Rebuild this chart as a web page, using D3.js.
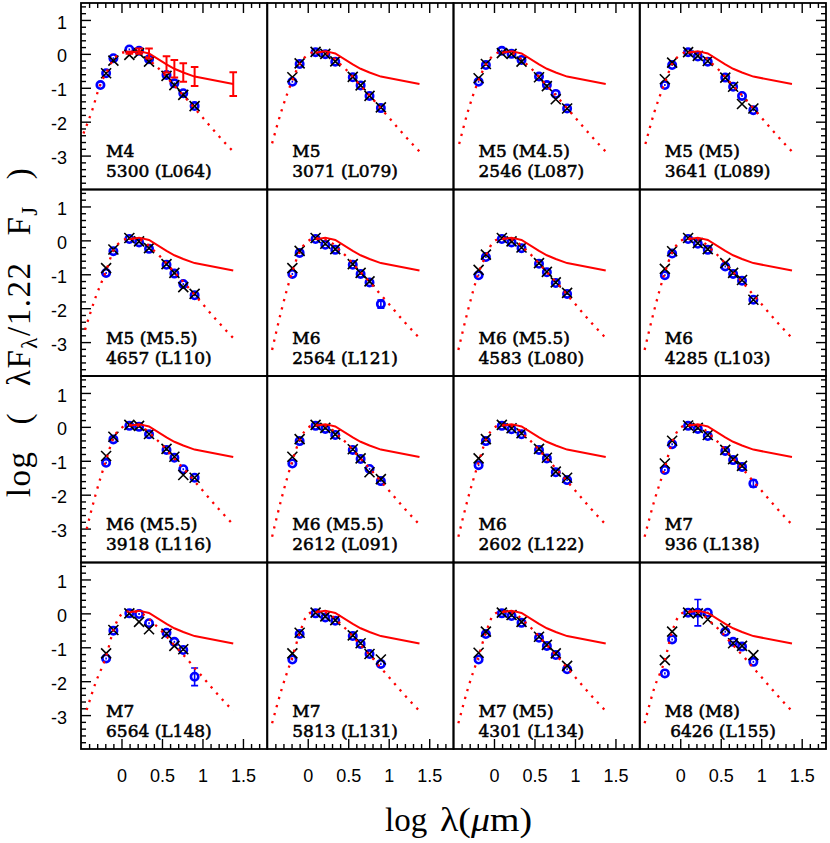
<!DOCTYPE html>
<html><head><meta charset="utf-8">
<script src="https://cdn.jsdelivr.net/npm/d3@7"></script>
<style>
body{margin:0;background:#fff;}
svg{display:block;}
</style></head><body>
<script>
// ---------------- data ----------------
const bandNames = ["V","R","I","J","H","K","3.6","4.5","5.8","8.0"];
const bandLogLambda = [-0.26,-0.19,-0.10,0.097,0.217,0.34,0.556,0.653,0.763,0.903];

const spectralTypes = ["M4","M5","M5 (M4.5)","M5 (M5)",
  "M5 (M5.5)","M6","M6 (M5.5)","M6",
  "M6 (M5.5)","M6 (M5.5)","M6","M7",
  "M7","M7","M7 (M5)","M8 (M8)"];
const sourceLabels = ["5300 (L064)","3071 (L079)","2546 (L087)","3641 (L089)",
  "4657 (L110)","2564 (L121)","4583 (L080)","4285 (L103)",
  "3918 (L116)","2612 (L091)","2602 (L122)","936 (L138)",
  "6564 (L148)","5813 (L131)","4301 (L134)"," 6426 (L155)"];

// observed (blue circles), per panel, per band
const observed = [
 [-0.92,-0.57,-0.13,0.13,0.09,-0.16,-0.62,-0.87,-1.16,-1.54],
 [null,-0.82,-0.30,0.05,-0.01,-0.23,-0.69,-0.93,-1.24,-1.60],
 [null,-0.82,-0.33,0.09,0.00,-0.18,-0.67,-0.92,-1.18,-1.61],
 [null,-0.92,-0.33,0.05,-0.08,-0.23,-0.70,-0.97,-1.24,-1.66],
 [null,-0.96,-0.32,0.04,-0.06,-0.25,-0.72,-0.98,-1.29,-1.62],
 [null,-0.99,-0.37,0.04,-0.13,-0.28,-0.72,-0.99,-1.24,-1.88],
 [null,-1.03,-0.49,0.04,-0.06,-0.23,-0.69,-0.94,-1.26,-1.58],
 [null,-1.03,-0.39,0.04,-0.10,-0.28,-0.77,-0.99,-1.19,-1.75],
 [null,-1.06,-0.37,0.03,0.00,-0.22,-0.68,-0.91,-1.25,-1.50],
 [null,-1.08,-0.42,0.03,-0.06,-0.24,-0.68,-0.95,-1.24,-1.60],
 [null,-1.13,-0.42,0.03,-0.07,-0.22,-0.68,-0.93,-1.34,-1.57],
 [null,-1.27,-0.51,0.03,-0.06,-0.27,-0.71,-0.98,-1.18,-1.67],
 [null,-1.33,-0.51,0.00,-0.02,-0.29,-0.57,-0.84,-1.08,-1.87],
 [null,-1.36,-0.61,0.00,-0.12,-0.22,-0.67,-0.90,-1.20,-1.49],
 [null,-1.36,-0.61,0.00,-0.08,-0.28,-0.72,-0.96,-1.23,-1.65],
 [null,-1.77,-0.77,0.02,0.02,0.02,-0.54,-0.84,-0.98,-1.43]
];
// photospheric model points (black crosses)
const photosphere = [
 [null,-0.57,-0.20,-0.03,0.02,-0.23,-0.65,-0.92,-1.21,-1.54],
 [null,-0.69,-0.28,0.06,0.00,-0.22,-0.68,-0.93,-1.24,-1.58],
 [null,-0.72,-0.30,0.02,0.00,-0.23,-0.69,-0.95,-1.34,-1.61],
 [null,-0.75,-0.26,0.05,-0.06,-0.21,-0.70,-0.97,-1.48,-1.61],
 [null,-0.82,-0.27,0.07,-0.03,-0.23,-0.70,-0.96,-1.38,-1.58],
 [null,-0.82,-0.31,0.07,-0.10,-0.26,-0.70,-0.96,-1.21,null],
 [null,-0.87,-0.42,0.07,-0.03,-0.21,-0.67,-0.93,-1.24,-1.55],
 [null,-0.84,-0.32,0.07,-0.08,-0.26,-0.67,-0.96,-1.17,-1.75],
 [null,-0.86,-0.29,0.06,0.03,-0.21,-0.65,-0.88,-1.42,-1.50],
 [null,-0.88,-0.36,0.06,-0.03,-0.22,-0.66,-0.93,-1.34,-1.54],
 [null,-0.93,-0.36,0.06,-0.04,-0.19,-0.65,-0.91,-1.32,-1.50],
 [null,-1.08,-0.41,0.04,-0.03,-0.24,-0.68,-0.95,-1.15,null],
 [null,-1.18,-0.49,0.00,-0.25,-0.47,-0.60,-0.96,-1.06,null],
 [null,-1.18,-0.57,0.02,-0.09,-0.20,-0.65,-0.88,-1.20,-1.36],
 [null,-1.16,-0.54,0.02,-0.05,-0.25,-0.69,-0.93,-1.18,-1.55],
 [null,-1.38,-0.54,0.02,0.00,-0.18,-0.44,-0.88,-0.96,-1.23]
];
const defaultError = 0.03;
// [panel, band, error] for the visible large error bars
const largeErrors = [[5,9,0.12],[11,9,0.10],[12,9,0.26],[15,4,0.39]];

// median disk SED (red solid line) and its spread (panel 1)
const medianLogLambda = [0.097,0.217,0.34,0.556,0.653,0.763,0.903,1.38];
const medianValues    = [0.03,0.08,0.01,-0.31,-0.44,-0.55,-0.67,-0.89];
const medianErrors    = [0.03,0.08,0.15,0.24,0.26,0.27,0.28,0.35];

// photosphere model curve (red dotted): short-wavelength side per panel
const modelBlueSide = [
 [[-0.47,-2.35],[-0.36,-1.65],[-0.265,-0.92],[-0.19,-0.57],[-0.10,-0.17],[0.0,0.03]],
 [[-0.44,-2.64],[-0.32,-1.65],[-0.19,-0.78],[-0.10,-0.30],[0.0,-0.03]],
 [[-0.43,-2.66],[-0.32,-1.68],[-0.19,-0.78],[-0.10,-0.32],[0.0,-0.03]],
 [[-0.43,-2.66],[-0.32,-1.72],[-0.19,-0.85],[-0.10,-0.30],[0.0,-0.03]],
 [[-0.45,-2.64],[-0.32,-1.68],[-0.19,-0.90],[-0.10,-0.30],[0.0,-0.03]],
 [[-0.44,-3.23],[-0.32,-2.02],[-0.19,-0.92],[-0.10,-0.34],[0.0,-0.03]],
 [[-0.44,-3.23],[-0.32,-2.05],[-0.19,-0.96],[-0.10,-0.45],[0.0,-0.03]],
 [[-0.44,-3.23],[-0.32,-2.05],[-0.19,-0.95],[-0.10,-0.36],[0.0,-0.03]],
 [[-0.43,-3.01],[-0.32,-2.00],[-0.19,-0.98],[-0.10,-0.33],[0.0,-0.03]],
 [[-0.44,-3.24],[-0.32,-2.08],[-0.19,-1.00],[-0.10,-0.39],[0.0,-0.03]],
 [[-0.44,-3.24],[-0.32,-2.10],[-0.19,-1.05],[-0.10,-0.39],[0.0,-0.03]],
 [[-0.44,-3.24],[-0.32,-2.18],[-0.19,-1.20],[-0.10,-0.46],[0.0,-0.03]],
 [[-0.43,-2.85],[-0.32,-2.05],[-0.19,-1.27],[-0.10,-0.50],[0.0,-0.03]],
 [[-0.44,-3.24],[-0.32,-2.22],[-0.19,-1.28],[-0.10,-0.59],[0.0,-0.03]],
 [[-0.44,-3.24],[-0.32,-2.20],[-0.19,-1.26],[-0.10,-0.57],[0.0,-0.03]],
 [[-0.44,-3.24],[-0.32,-2.20],[-0.19,-1.38],[-0.10,-0.54],[0.0,-0.03]]
];
// long-wavelength side (shared)
const modelRedSide = [[0.1,0.06],[0.2,0.04],[0.3,-0.08],[0.4,-0.30],[0.5,-0.53],[0.6,-0.80],
  [0.7,-1.06],[0.8,-1.32],[0.9,-1.60],[1.0,-1.87],[1.1,-2.15],[1.2,-2.42],[1.3,-2.68],[1.38,-2.88]];

const yMajorTicks = [1,0,-1,-2,-3];
const xMajorTicks = [0,0.5,1,1.5];

// ---------------- layout ----------------
const W=830, H=843;
const left0=81, top0=3, pw=186.25, ph=186.5;
const RED="#ff0000", BLUE="#0000ff";
const SERIF="Liberation Serif, Times New Roman, serif";

const svg=d3.select("body").append("svg").attr("width",W).attr("height",H);
svg.append("rect").attr("width",W).attr("height",H).attr("fill","#fff");

const yMinor = d3.range(-3.8,1.45,0.2).map(v=>+v.toFixed(2)).filter(v=>Math.abs(v-Math.round(v))>1e-6);
const xMinor = d3.range(-0.4,1.75,0.1).map(v=>+v.toFixed(2)).filter(v=>Math.abs(v*2-Math.round(v*2))>1e-6);

for(let p=0;p<16;p++){
  const r=Math.floor(p/4), c=p%4;
  const x0=left0+c*pw, y0=top0+r*ph;
  const x=d3.scaleLinear().domain([-0.5,1.8]).range([x0,x0+pw]);
  const y=d3.scaleLinear().domain([-4,1.5]).range([y0+ph,y0]);
  const g=svg.append("g");

  // ticks on outer frame only
  const styleAxis = sel=>{ sel.select(".domain").remove(); sel.selectAll(".tick line").attr("stroke","#000").attr("stroke-width",1.4); };
  if(c===0){
    g.append("g").attr("transform",`translate(${x0},0)`)
      .call(d3.axisLeft(y).tickValues(yMajorTicks).tickSize(-10).tickPadding(14).tickFormat(d=>String(d)))
      .call(styleAxis)
      .call(s=>s.selectAll("text").attr("font-family","Liberation Sans, Arial, sans-serif").attr("font-size",18).attr("fill","#000").attr("dy","0.45em"));
    g.append("g").attr("transform",`translate(${x0},0)`)
      .call(d3.axisLeft(y).tickValues(yMinor).tickSize(-5).tickFormat(""))
      .call(styleAxis);
  }
  if(c===3){
    g.append("g").attr("transform",`translate(${x0+pw},0)`)
      .call(d3.axisRight(y).tickValues(yMajorTicks).tickSize(-10).tickFormat(""))
      .call(styleAxis);
    g.append("g").attr("transform",`translate(${x0+pw},0)`)
      .call(d3.axisRight(y).tickValues(yMinor).tickSize(-5).tickFormat(""))
      .call(styleAxis);
  }
  if(r===0){
    g.append("g").attr("transform",`translate(0,${y0})`)
      .call(d3.axisTop(x).tickValues(xMajorTicks).tickSize(-10).tickFormat(""))
      .call(styleAxis);
    g.append("g").attr("transform",`translate(0,${y0})`)
      .call(d3.axisTop(x).tickValues(xMinor).tickSize(-5).tickFormat(""))
      .call(styleAxis);
  }
  if(r===3){
    g.append("g").attr("transform",`translate(0,${y0+ph})`)
      .call(d3.axisBottom(x).tickValues(xMajorTicks).tickSize(-10).tickPadding(20).tickFormat(d=>String(d)))
      .call(styleAxis)
      .call(s=>s.selectAll("text").attr("font-family","Liberation Sans, Arial, sans-serif").attr("font-size",18).attr("fill","#000"));
    g.append("g").attr("transform",`translate(0,${y0+ph})`)
      .call(d3.axisBottom(x).tickValues(xMinor).tickSize(-5).tickFormat(""))
      .call(styleAxis);
  }

  // observed points with error bars
  const obs = observed[p].map((v,i)=>{
    const le = largeErrors.find(e=>e[0]===p && e[1]===i);
    return {x:bandLogLambda[i], v, e: le? le[2] : defaultError};
  }).filter(d=>d.v!==null);
  g.selectAll("path.err").data(obs).enter().append("path")
    .attr("d",d=>{const cx=x(d.x), a=y(d.v+d.e), b=y(d.v-d.e), w=3.5;
      return `M${cx},${a}L${cx},${b}` + (d.e>0.05? `M${cx-w},${a}L${cx+w},${a}M${cx-w},${b}L${cx+w},${b}`:"");})
    .attr("stroke",BLUE).attr("stroke-width",1.6).attr("fill","none");
  g.selectAll("circle.obs").data(obs).enter().append("circle")
    .attr("cx",d=>x(d.x)).attr("cy",d=>y(d.v)).attr("r",3.7)
    .attr("fill","none").attr("stroke",BLUE).attr("stroke-width",2.6);

  // photospheric crosses
  const crosses = photosphere[p].map((v,i)=>({x:bandLogLambda[i],v})).filter(d=>d.v!==null);
  g.selectAll("path.cross").data(crosses).enter().append("path")
    .attr("d",d=>{const cx=x(d.x), cy=y(d.v), s=5; return `M${cx-s},${cy-s}L${cx+s},${cy+s}M${cx-s},${cy+s}L${cx+s},${cy-s}`;})
    .attr("stroke","#000").attr("stroke-width",1.6).attr("fill","none");

  // photosphere model (dotted)
  const model = modelBlueSide[p].concat(modelRedSide);
  g.append("path").datum(model)
    .attr("d",d3.line().x(d=>x(d[0])).y(d=>y(d[1])).curve(d3.curveMonotoneX))
    .attr("fill","none").attr("stroke",RED).attr("stroke-width",2.3)
    .attr("stroke-dasharray","2.3 6");

  // median disk SED
  const med = medianLogLambda.map((lx,i)=>({x:lx,v:medianValues[i],e:medianErrors[i]}));
  g.append("path").datum(med)
    .attr("d",d3.line().x(d=>x(d.x)).y(d=>y(d.v)))
    .attr("fill","none").attr("stroke",RED).attr("stroke-width",2);
  if(p===0){
    g.selectAll("path.merr").data(med).enter().append("path")
      .attr("d",d=>{const cx=x(d.x), a=y(d.v+d.e), b=y(d.v-d.e), w=3.8;
        return `M${cx},${a}L${cx},${b}M${cx-w},${a}L${cx+w},${a}M${cx-w},${b}L${cx+w},${b}`;})
      .attr("stroke",RED).attr("stroke-width",2).attr("fill","none");
  }

  // labels
  const lab = g.append("text").attr("font-family","DejaVu Serif, serif").attr("font-size",17)
    .attr("fill","#000").attr("stroke","#000").attr("stroke-width",0.55).style("white-space","pre");
  lab.append("tspan").attr("x",x0+25).attr("y",y0+154).text(spectralTypes[p]);
  lab.append("tspan").attr("x",x0+25).attr("y",y0+174).text(sourceLabels[p]);

  // frame
  g.append("rect").attr("x",x0).attr("y",y0).attr("width",pw).attr("height",ph)
    .attr("fill","none").attr("stroke","#000").attr("stroke-width",1.8);
}

// axis titles
const yt = svg.append("text").attr("transform","translate(30,332) rotate(-90)")
  .attr("text-anchor","middle").attr("font-family",SERIF)
  .attr("font-size",33).attr("fill","#000").attr("letter-spacing",1.5);
yt.append("tspan").text("log");
yt.append("tspan").attr("dx",26).text("(");
yt.append("tspan").attr("dx",26).text("λF");
yt.append("tspan").attr("font-size",23).attr("dy",7).text("λ");
yt.append("tspan").attr("dy",-7).text("/1.22");
yt.append("tspan").attr("dx",26).text("F");
yt.append("tspan").attr("font-size",23).attr("dy",7).text("J");
yt.append("tspan").attr("dy",-7).attr("dx",26).text(")");

svg.append("text").attr("x",385).attr("y",831)
  .attr("font-family",SERIF).attr("font-size",33).attr("fill","#000")
  .text("log");
const xt = svg.append("text").attr("x",440).attr("y",831)
  .attr("font-family",SERIF).attr("font-size",33).attr("fill","#000")
  .attr("textLength",92).attr("lengthAdjust","spacingAndGlyphs");
xt.append("tspan").text("λ(");
xt.append("tspan").attr("font-style","italic").text("μ");
xt.append("tspan").text("m)");
</script>
</body></html>
